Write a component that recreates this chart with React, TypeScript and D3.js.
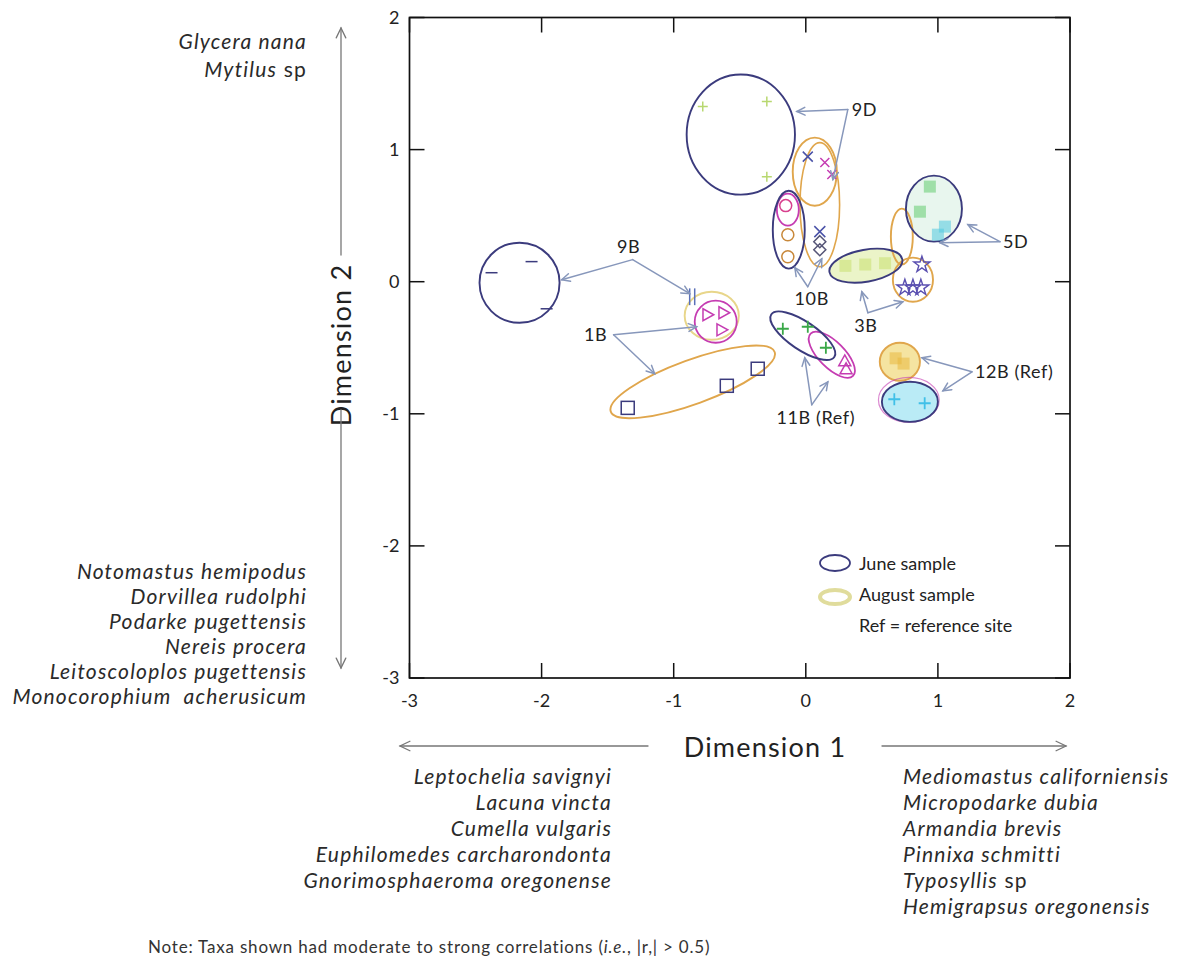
import React from "react";
import * as d3 from "d3";

// ---- axes ----
const xTicks = [-3, -2, -1, 0, 1, 2];
const yTicks = [-3, -2, -1, 0, 1, 2];

// ---- sample ellipses (NMDS coordinates, radii in axis units, tilt in degrees) ----
const juneEllipses = [
  { id: "9B", cx: -2.167, cy: -0.008, rx: 0.303, ry: 0.303, tilt: 0 },
  { id: "9D", cx: -0.492, cy: 1.114, rx: 0.41, ry: 0.455, tilt: 0 },
  { id: "10B", cx: -0.129, cy: 0.394, rx: 0.121, ry: 0.295, tilt: 0 },
  { id: "3B", cx: 0.455, cy: 0.121, rx: 0.28, ry: 0.121, tilt: 10 },
  { id: "5D", cx: 0.97, cy: 0.553, rx: 0.212, ry: 0.25, tilt: 0 },
  { id: "11B", cx: -0.023, cy: -0.409, rx: 0.288, ry: 0.106, tilt: -34 },
  { id: "12B", cx: 0.788, cy: -0.909, rx: 0.212, ry: 0.152, tilt: 0 },
];

const augustEllipses = [
  { id: "10B", cx: 0.106, cy: 0.583, rx: 0.15, ry: 0.47, tilt: 0 },
  { id: "9D", cx: 0.068, cy: 0.833, rx: 0.167, ry: 0.258, tilt: 0 },
  { id: "5D", cx: 0.727, cy: 0.341, rx: 0.083, ry: 0.212, tilt: 0 },
  { id: "3B", cx: 0.811, cy: 0.015, rx: 0.152, ry: 0.167, tilt: 0 },
  { id: "9B", cx: -0.712, cy: -0.258, rx: 0.205, ry: 0.182, tilt: 0 },
  { id: "1B", cx: -0.856, cy: -0.758, rx: 0.66, ry: 0.167, tilt: 20 },
  { id: "12B", cx: 0.712, cy: -0.606, rx: 0.152, ry: 0.144, tilt: 0 },
];

// replicate groupings drawn inside the seasonal ellipses
const replicateEllipses = [
  { id: "10B-a", cx: -0.136, cy: 0.545, rx: 0.083, ry: 0.121, tilt: 0 },
  { id: "9B-a", cx: -0.682, cy: -0.303, rx: 0.159, ry: 0.159, tilt: 0 },
  { id: "11B-a", cx: 0.197, cy: -0.553, rx: 0.227, ry: 0.098, tilt: -45 },
  { id: "12B-a", cx: 0.78, cy: -0.895, rx: 0.23, ry: 0.17, tilt: 0 },
];

// ---- sample points by site ----
const site9BJune = [[-2.076, 0.152], [-2.379, 0.068], [-1.962, -0.205]];
const site9BAug = [[-0.879, -0.114], [-0.841, -0.114]];
const site9BAugB = [[-0.742, -0.25], [-0.621, -0.235], [-0.636, -0.364]];
const site1B = [[-1.348, -0.955], [-0.598, -0.788], [-0.364, -0.659]];
const site9DJune = [[-0.78, 1.326], [-0.295, 1.364], [-0.295, 0.795]];
const site9DAug = [[0.015, 0.947]];
const site9DAugB = [[0.144, 0.902], [0.197, 0.811]];
const site10BJune = [[-0.152, 0.576], [-0.136, 0.356], [-0.136, 0.189]];
const site10BAugX = [[0.106, 0.379]];
const site10BAugD = [[0.106, 0.303], [0.106, 0.242]];
const site3BJune = [[0.3, 0.12], [0.45, 0.13], [0.6, 0.14]];
const site3BAug = [[0.879, 0.129], [0.75, -0.045], [0.811, -0.045], [0.871, -0.045]];
const site5DJune = [[0.939, 0.72], [0.864, 0.53], [1.053, 0.417], [1.0, 0.356]];
const site11BJune = [[-0.174, -0.356], [0.015, -0.341], [0.152, -0.5]];
const site11BAug = [[0.295, -0.6], [0.305, -0.66]];
const site12BAug = [[0.68, -0.58], [0.74, -0.62]];
const site12BJune = [[0.67, -0.89], [0.9, -0.92]];

// ---- site labels with leader arrows ----
const siteLabels = [
  { text: "9D", tx: 0.348, ty: 1.303, anchor: "start", from: [0.318, 1.303], to: [[-0.068, 1.288], [0.205, 0.773]] },
  { text: "9B", tx: -1.341, ty: 0.262, anchor: "middle", from: [-1.311, 0.167], to: [[-1.848, 0.015], [-0.879, -0.091]] },
  { text: "1B", tx: -1.591, ty: -0.402, anchor: "middle", from: [-1.455, -0.402], to: [[-0.826, -0.341], [-1.144, -0.697]] },
  { text: "10B", tx: 0.045, ty: -0.129, anchor: "middle", from: [0.015, -0.038], to: [[-0.083, 0.106], [0.121, 0.174]] },
  { text: "3B", tx: 0.455, ty: -0.333, anchor: "middle", from: [0.47, -0.235], to: [[0.424, -0.076], [0.735, -0.152]] },
  { text: "5D", tx: 1.492, ty: 0.303, anchor: "start", from: [1.47, 0.303], to: [[1.227, 0.432], [1.015, 0.295]] },
  { text: "12B (Ref)", tx: 1.28, ty: -0.682, anchor: "start", from: [1.258, -0.682], to: [[0.879, -0.576], [1.038, -0.826]] },
  { text: "11B (Ref)", tx: 0.076, ty: -1.03, anchor: "middle", from: [0.045, -0.932], to: [[-0.008, -0.576], [0.167, -0.758]] },
];

// ---- correlated taxa along each axis ----
const dim2Positive = ["Glycera nana", "Mytilus sp"];
const dim2Negative = [
  "Notomastus hemipodus",
  "Dorvillea rudolphi",
  "Podarke pugettensis",
  "Nereis procera",
  "Leitoscoloplos pugettensis",
  "Monocorophium  acherusicum",
];
const dim1Negative = [
  "Leptochelia savignyi",
  "Lacuna vincta",
  "Cumella vulgaris",
  "Euphilomedes carcharondonta",
  "Gnorimosphaeroma oregonense",
];
const dim1Positive = [
  "Mediomastus californiensis",
  "Micropodarke dubia",
  "Armandia brevis",
  "Pinnixa schmitti",
  "Typosyllis sp",
  "Hemigrapsus oregonensis",
];

const legendItems = ["June sample", "August sample", "Ref = reference site"];

const FONT = "Lato, 'Open Sans', sans-serif";
const NAVY = "#3b3b7d";
const ORANGE = "#e0a64c";
const PALE = "#e8d68a";
const MAGENTA = "#c53cb2";
const ARROW = "#8797bb";

const W = 1179;
const H = 956;

const x = d3.scaleLinear().domain([-3, 2]).range([409.5, 1070]);
const y = d3.scaleLinear().domain([-3, 2]).range([678, 17.5]);
const unit = x(1) - x(0);

function Ellipse({ e, stroke, fill = "none", sw = 1.8, opacity = 1 }: any) {
  const px = x(e.cx);
  const py = y(e.cy);
  return (
    <ellipse
      cx={px}
      cy={py}
      rx={e.rx * unit}
      ry={e.ry * unit}
      transform={`rotate(${-e.tilt} ${px} ${py})`}
      fill={fill}
      stroke={stroke}
      strokeWidth={sw}
      opacity={opacity}
    />
  );
}

function Marker({ kind, p, color, size = 6, sw = 1.5 }: any) {
  const cx = x(p[0]);
  const cy = y(p[1]);
  const s = size;
  const common = { fill: "none", stroke: color, strokeWidth: sw };
  switch (kind) {
    case "dash":
      return <line x1={cx - s} x2={cx + s} y1={cy} y2={cy} {...common} />;
    case "bar":
      return <line x1={cx} x2={cx} y1={cy - s * 1.4} y2={cy + s * 1.4} {...common} />;
    case "square":
      return <rect x={cx - s} y={cy - s} width={2 * s} height={2 * s} {...common} />;
    case "circle":
      return <circle cx={cx} cy={cy} r={s} {...common} />;
    case "plus":
      return <path d={`M${cx - s},${cy}H${cx + s}M${cx},${cy - s}V${cy + s}`} {...common} />;
    case "x":
      return <path d={`M${cx - s},${cy - s}L${cx + s},${cy + s}M${cx + s},${cy - s}L${cx - s},${cy + s}`} {...common} />;
    case "diamond":
      return <path d={`M${cx},${cy - s}L${cx + s},${cy}L${cx},${cy + s}L${cx - s},${cy}Z`} {...common} />;
    case "triRight":
      return <path d={`M${cx - s * 0.8},${cy - s}L${cx + s},${cy}L${cx - s * 0.8},${cy + s}Z`} {...common} />;
    case "triUp":
      return <path d={`M${cx},${cy - s}L${cx + s},${cy + s * 0.8}L${cx - s},${cy + s * 0.8}Z`} {...common} />;
    case "star": {
      const d = d3.symbol(d3.symbolStar, s * s * 3.2)() as string;
      return <path d={d} transform={`translate(${cx},${cy})`} {...common} />;
    }
    case "blob":
      return <rect x={cx - s} y={cy - s} width={2 * s} height={2 * s} fill={color} stroke="none" opacity={0.55} />;
    default:
      return null;
  }
}

function Arrow({ x1, y1, x2, y2, color = ARROW, head = 9, sw = 1.5 }: any) {
  const a = Math.atan2(y2 - y1, x2 - x1);
  const spread = 0.45;
  const hx1 = x2 - head * Math.cos(a - spread);
  const hy1 = y2 - head * Math.sin(a - spread);
  const hx2 = x2 - head * Math.cos(a + spread);
  const hy2 = y2 - head * Math.sin(a + spread);
  return (
    <g stroke={color} strokeWidth={sw} fill="none" strokeLinecap="round">
      <line x1={x1} y1={y1} x2={x2} y2={y2} />
      <path d={`M${hx1},${hy1}L${x2},${y2}L${hx2},${hy2}`} />
    </g>
  );
}

const TAX_SIZE = 21;
const TAX_SPACING = 1.2;

function Taxon({ name, x: tx, y: ty, anchor }: any) {
  const common = {
    x: tx,
    y: ty,
    textAnchor: anchor,
    fontSize: TAX_SIZE,
    fontFamily: FONT,
    letterSpacing: TAX_SPACING,
    fill: "#2a2a2a",
    style: { whiteSpace: "pre" as const },
  };
  // genus-level "sp" is set upright
  if (name.endsWith(" sp")) {
    return (
      <text {...common}>
        <tspan fontStyle="italic">{name.slice(0, -3)}</tspan>
        <tspan> sp</tspan>
      </text>
    );
  }
  return (
    <text {...common} fontStyle="italic">
      {name}
    </text>
  );
}

export default function App() {
  const x0 = x(-3);
  const x1 = x(2);
  const yTop = y(2);
  const yBot = y(-3);
  const tick = 15;

  return (
    <svg width={W} height={H} style={{ position: "absolute", left: 0, top: 0, background: "#fff" }}>
      {/* frame and inward ticks */}
      <rect x={x0} y={yTop} width={x1 - x0} height={yBot - yTop} fill="none" stroke="#111" strokeWidth={1.7} />
      {xTicks.map((t) => (
        <g key={"xt" + t}>
          <line x1={x(t)} x2={x(t)} y1={yBot} y2={yBot - tick} stroke="#111" strokeWidth={1.5} />
          <line x1={x(t)} x2={x(t)} y1={yTop} y2={yTop + tick} stroke="#111" strokeWidth={1.5} />
          <text x={x(t)} y={yBot + 29} textAnchor="middle" fontSize={18} fontFamily={FONT} fill="#222">
            {t}
          </text>
        </g>
      ))}
      {yTicks.map((t) => (
        <g key={"yt" + t}>
          <line x1={x0} x2={x0 + tick} y1={y(t)} y2={y(t)} stroke="#111" strokeWidth={1.5} />
          <line x1={x1} x2={x1 - tick} y1={y(t)} y2={y(t)} stroke="#111" strokeWidth={1.5} />
          <text x={x0 - 10} y={y(t) + 6} textAnchor="end" fontSize={18} fontFamily={FONT} fill="#222">
            {t}
          </text>
        </g>
      ))}

      {/* axis titles */}
      <text x={765} y={757} textAnchor="middle" fontSize={27} letterSpacing={1.2} fontFamily={FONT} fill="#222">
        Dimension 1
      </text>
      <text
        transform={`translate(351,345) rotate(-90)`}
        textAnchor="middle"
        fontSize={27}
        letterSpacing={1.2}
        fontFamily={FONT}
        fill="#222"
      >
        Dimension 2
      </text>

      {/* taxa gradients */}
      <Arrow x1={341} y1={255} x2={341} y2={28} color="#777" head={11} sw={1.3} />
      <Arrow x1={341} y1={410} x2={341} y2={668} color="#777" head={11} sw={1.3} />
      <Arrow x1={648} y1={746} x2={400} y2={746} color="#777" head={11} sw={1.3} />
      <Arrow x1={882} y1={746} x2={1066} y2={746} color="#777" head={11} sw={1.3} />

      {dim2Positive.map((n, i) => (
        <Taxon key={n} name={n} x={307} y={49 + i * 28} anchor="end" />
      ))}
      {dim2Negative.map((n, i) => (
        <Taxon key={n} name={n} x={307} y={579 + i * 25} anchor="end" />
      ))}
      {dim1Negative.map((n, i) => (
        <Taxon key={n} name={n} x={612} y={784 + i * 26} anchor="end" />
      ))}
      {dim1Positive.map((n, i) => (
        <Taxon key={n} name={n} x={903} y={784 + i * 26} anchor="start" />
      ))}

      <text x={148} y={953} fontSize={17} letterSpacing={0.8} fontFamily={FONT} fill="#333">
        Note: Taxa shown had moderate to strong correlations (<tspan fontStyle="italic">i.e.</tspan>, |r,| &gt; 0.5)
      </text>

      {/* filled backgrounds */}
      <Ellipse e={juneEllipses[3]} stroke="none" fill="#e2efb0" opacity={0.7} />
      <Ellipse e={juneEllipses[6]} stroke="none" fill="#a9e6f4" opacity={0.8} />
      <Ellipse e={augustEllipses[6]} stroke="none" fill="#f3dd8a" opacity={0.8} />
      <Ellipse e={juneEllipses[4]} stroke="none" fill="#e2f4ea" opacity={0.8} />

      {/* August ellipses */}
      {augustEllipses.map((e) => (
        <Ellipse key={"a" + e.id} e={e} stroke={e.id === "9B" ? PALE : ORANGE} sw={e.id === "10B" ? 1.6 : 1.9} />
      ))}
      {/* replicate groupings */}
      {replicateEllipses.map((e) => (
        <Ellipse key={"r" + e.id} e={e} stroke={MAGENTA} sw={e.id === "12B-a" ? 1.2 : 1.8} opacity={e.id === "12B-a" ? 0.6 : 1} />
      ))}
      {/* June ellipses */}
      {juneEllipses.map((e) => (
        <Ellipse key={"j" + e.id} e={e} stroke={NAVY} sw={1.9} />
      ))}

      {/* sample points */}
      {site9BJune.map((p, i) => <Marker key={"a" + i} kind="dash" p={p} color={NAVY} size={6} />)}
      {site9BAug.map((p, i) => <Marker key={"b" + i} kind="bar" p={p} color="#5a6fb8" size={6} />)}
      {site9BAugB.map((p, i) => <Marker key={"c" + i} kind="triRight" p={p} color={MAGENTA} size={6} />)}
      {site1B.map((p, i) => <Marker key={"d" + i} kind="square" p={p} color={NAVY} size={6.5} />)}
      {site9DJune.map((p, i) => <Marker key={"e" + i} kind="plus" p={p} color="#b8d870" size={5} />)}
      {site9DAug.map((p, i) => <Marker key={"f" + i} kind="x" p={p} color="#4a52a8" size={5} />)}
      {site9DAugB.map((p, i) => <Marker key={"g" + i} kind="x" p={p} color={MAGENTA} size={4.5} />)}
      {site10BJune.map((p, i) => (
        <Marker key={"h" + i} kind="circle" p={p} color={i === 0 ? "#d8408e" : "#c8883a"} size={6} />
      ))}
      {site10BAugX.map((p, i) => <Marker key={"i" + i} kind="x" p={p} color="#4a52a8" size={5.5} />)}
      {site10BAugD.map((p, i) => <Marker key={"k" + i} kind="diamond" p={p} color="#555577" size={6} />)}
      {site3BJune.map((p, i) => <Marker key={"l" + i} kind="blob" p={p} color="#c8e070" size={6} />)}
      {site3BAug.map((p, i) => <Marker key={"m" + i} kind="star" p={p} color="#5a4fb0" size={5} sw={1.4} />)}
      {site5DJune.map((p, i) => (
        <Marker key={"n" + i} kind="blob" p={p} color={i < 2 ? "#62cc70" : "#50c8e0"} size={6} />
      ))}
      {site11BJune.map((p, i) => <Marker key={"o" + i} kind="plus" p={p} color="#3aa848" size={6} sw={1.8} />)}
      {site11BAug.map((p, i) => <Marker key={"q" + i} kind="triUp" p={p} color={MAGENTA} size={6} />)}
      {site12BAug.map((p, i) => <Marker key={"r" + i} kind="blob" p={p} color="#e8b840" size={6} />)}
      {site12BJune.map((p, i) => <Marker key={"s" + i} kind="plus" p={p} color="#40c0e8" size={6} sw={1.8} />)}

      {/* site labels */}
      {siteLabels.map((l) => (
        <g key={l.text}>
          {l.to.map((t, i) => (
            <Arrow key={i} x1={x(l.from[0])} y1={y(l.from[1])} x2={x(t[0])} y2={y(t[1])} />
          ))}
          <text
            x={x(l.tx)}
            y={y(l.ty)}
            dy="0.35em"
            textAnchor={l.anchor}
            fontSize={18}
            letterSpacing={0.6}
            fontFamily={FONT}
            fill="#222"
          >
            {l.text}
          </text>
        </g>
      ))}

      {/* legend */}
      <ellipse cx={835} cy={563} rx={15} ry={8} fill="none" stroke={NAVY} strokeWidth={1.8} />
      <ellipse cx={835} cy={597} rx={15} ry={7} fill="none" stroke="#e0dc9c" strokeWidth={4} />
      {legendItems.map((t, i) => (
        <text key={t} x={859} y={570 + i * 31} fontSize={18} fontFamily={FONT} fill="#222">
          {t}
        </text>
      ))}
    </svg>
  );
}
